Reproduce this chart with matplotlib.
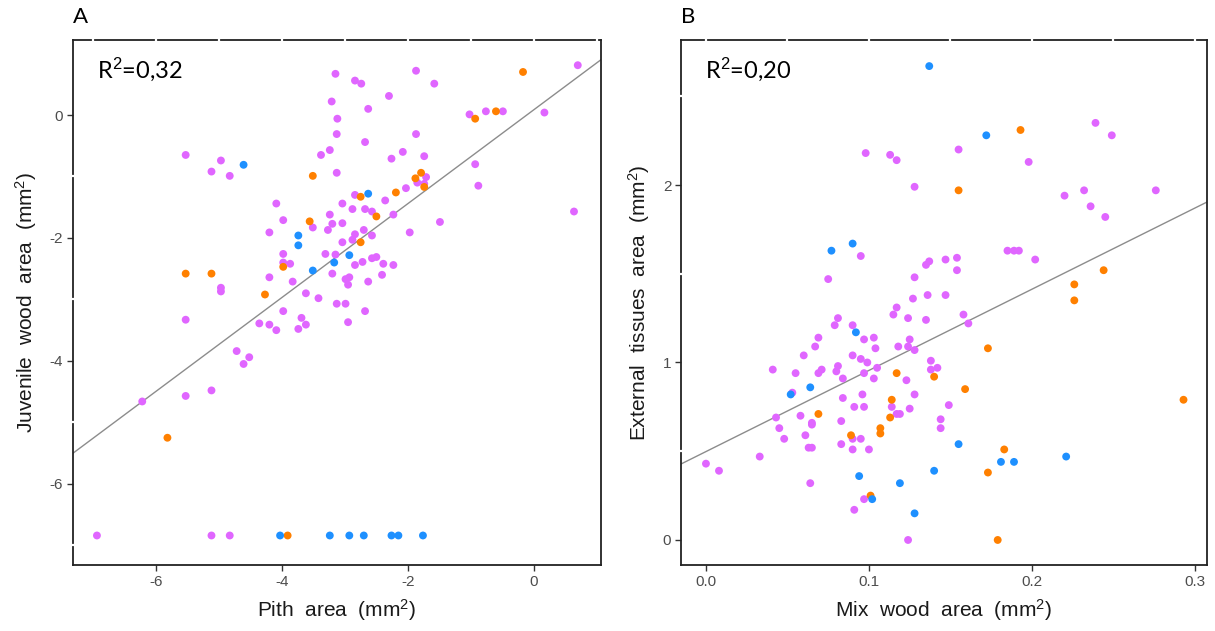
import matplotlib
matplotlib.use("Agg")
from matplotlib import pyplot as plt
import numpy as np

# ---- panel A : pith area vs juvenile wood area (log scale values) ----
a_violet_x = [-5.53, -4.97, -5.12, -4.83, -3.15, -3.21, -3.12, -3.13, -3.24, -3.38,
              -3.13, -4.09, -3.98, -3.24, -3.20, -3.51, -3.27, -4.20, -3.98, -3.31,
              -3.15, -3.98, -3.87, -4.97, -4.97, -4.20, -3.83, -3.20, -3.62, -3.42,
              -2.84, -2.74, -1.87, -1.58, -2.30, -2.63, -1.87, -2.68, -2.08, -2.26,
              -1.74, 0.70, -1.02, -0.76, -0.49, 0.17, -0.93, -0.88, 0.64, -1.71,
              -1.85, -1.74, -2.03, -2.84, -2.36, -3.04, -2.88, -2.68, -2.57, -2.23,
              -1.49, -3.04, -2.70, -2.84, -2.57, -2.88, -3.04, -1.97, -2.57, -2.50,
              -2.72, -2.84, -2.39, -2.23, -2.99, -2.93, -2.95, -2.63, -2.41, -3.13,
              -2.99, -2.68, -2.95, -5.53, -4.36, -4.20, -4.09, -3.98, -3.74, -3.69,
              -3.62, -4.72, -4.52, -4.61, -5.12, -5.53, -6.22, -6.94, -5.12, -4.83]
a_violet_y = [-0.65, -0.74, -0.92, -0.99, 0.67, 0.22, -0.06, -0.31, -0.57, -0.65,
              -0.94, -1.44, -1.71, -1.62, -1.77, -1.83, -1.87, -1.91, -2.26, -2.26,
              -2.27, -2.40, -2.42, -2.81, -2.87, -2.64, -2.71, -2.58, -2.90, -2.98,
              0.56, 0.51, 0.72, 0.51, 0.31, 0.10, -0.31, -0.44, -0.60, -0.71,
              -0.67, 0.81, 0.01, 0.06, 0.06, 0.04, -0.80, -1.15, -1.57, -1.01,
              -1.10, -1.12, -1.19, -1.30, -1.39, -1.44, -1.53, -1.53, -1.57, -1.62,
              -1.74, -1.76, -1.87, -1.94, -1.96, -2.03, -2.07, -1.91, -2.33, -2.31,
              -2.39, -2.44, -2.42, -2.44, -2.67, -2.64, -2.76, -2.71, -2.60, -3.07,
              -3.07, -3.19, -3.37, -3.33, -3.39, -3.41, -3.50, -3.19, -3.48, -3.30,
              -3.41, -3.84, -3.94, -4.05, -4.48, -4.57, -4.66, -6.84, -6.84, -6.84]
a_orange_x = [-3.51, -3.56, -3.98, -5.53, -5.12, -4.27, -0.17, -0.93, -0.60, -1.79,
              -1.88, -1.74, -2.19, -2.75, -2.50, -2.75, -5.82, -3.91]
a_orange_y = [-0.99, -1.73, -2.47, -2.58, -2.58, -2.92, 0.70, -0.06, 0.06, -0.94,
              -1.03, -1.17, -1.26, -1.33, -1.65, -2.07, -5.25, -6.84]
a_blue_x = [-4.61, -3.74, -3.74, -3.17, -3.51, -2.63, -2.93,
            -4.03, -3.24, -2.93, -2.70, -2.26, -2.15, -1.76]
a_blue_y = [-0.81, -1.96, -2.12, -2.40, -2.53, -1.28, -2.28,
            -6.84, -6.84, -6.84, -6.84, -6.84, -6.84, -6.84]
a_fit = (0.763, 0.084)   # slope, intercept
a_r2 = "0,32"

# ---- panel B : mix wood area vs external tissues area ----
b_violet_x = [0.098, 0.113, 0.117, 0.128, 0.095, 0.075, 0.137, 0.135, 0.147, 0.128,
              0.127, 0.136, 0.147, 0.117, 0.239, 0.249, 0.155, 0.198, 0.220, 0.232,
              0.236, 0.245, 0.276, 0.185, 0.189, 0.192, 0.202, 0.154, 0.154, 0.115,
              0.081, 0.079, 0.090, 0.124, 0.135, 0.069, 0.097, 0.103, 0.125, 0.067,
              0.104, 0.118, 0.124, 0.128, 0.060, 0.090, 0.095, 0.099, 0.081, 0.080,
              0.071, 0.069, 0.041, 0.055, 0.097, 0.105, 0.084, 0.103, 0.123, 0.138,
              0.138, 0.142, 0.053, 0.096, 0.128, 0.084, 0.114, 0.091, 0.097, 0.125,
              0.149, 0.117, 0.119, 0.043, 0.058, 0.144, 0.144, 0.083, 0.065, 0.065,
              0.045, 0.061, 0.090, 0.095, 0.048, 0.083, 0.063, 0.065, 0.090, 0.100,
              0.033, 0.000, 0.008, 0.064, 0.097, 0.091, 0.124, 0.158, 0.161]
b_violet_y = [2.18, 2.17, 2.14, 1.99, 1.60, 1.47, 1.57, 1.55, 1.58, 1.48,
              1.36, 1.38, 1.38, 1.31, 2.35, 2.28, 2.20, 2.13, 1.94, 1.97,
              1.88, 1.82, 1.97, 1.63, 1.63, 1.63, 1.58, 1.59, 1.52, 1.27,
              1.25, 1.21, 1.21, 1.25, 1.24, 1.14, 1.13, 1.14, 1.13, 1.09,
              1.08, 1.09, 1.09, 1.07, 1.04, 1.04, 1.02, 1.00, 0.98, 0.95,
              0.96, 0.94, 0.96, 0.94, 0.94, 0.97, 0.91, 0.91, 0.90, 1.01,
              0.96, 0.97, 0.83, 0.82, 0.82, 0.80, 0.75, 0.75, 0.75, 0.74,
              0.76, 0.71, 0.71, 0.69, 0.70, 0.68, 0.63, 0.67, 0.66, 0.65,
              0.63, 0.59, 0.57, 0.57, 0.57, 0.54, 0.52, 0.52, 0.51, 0.51,
              0.47, 0.43, 0.39, 0.32, 0.23, 0.17, 0.00, 1.27, 1.22]
b_orange_x = [0.193, 0.155, 0.244, 0.226, 0.226, 0.117, 0.140, 0.114, 0.069, 0.113,
              0.107, 0.107, 0.089, 0.101, 0.173, 0.159, 0.183, 0.173, 0.293, 0.179]
b_orange_y = [2.31, 1.97, 1.52, 1.44, 1.35, 0.94, 0.92, 0.79, 0.71, 0.69,
              0.63, 0.60, 0.59, 0.25, 1.08, 0.85, 0.51, 0.38, 0.79, 0.00]
b_blue_x = [0.137, 0.172, 0.090, 0.077, 0.092, 0.064, 0.052, 0.094, 0.119, 0.140,
            0.102, 0.128, 0.155, 0.181, 0.189, 0.221]
b_blue_y = [2.67, 2.28, 1.67, 1.63, 1.17, 0.86, 0.82, 0.36, 0.32, 0.39,
            0.23, 0.15, 0.54, 0.44, 0.44, 0.47]
b_fit = (4.574, 0.498)
b_r2 = "0,20"

violet = "#E066FF"
orange = "#FF8000"
blue = "#1E90FF"

plt.rcParams['font.family'] = ['Liberation Sans', 'DejaVu Sans']
plt.rcParams['mathtext.fontset'] = 'custom'
plt.rcParams['mathtext.rm'] = 'Liberation Sans'
plt.rcParams['mathtext.it'] = 'Liberation Sans:italic'

fig = plt.figure(figsize=(12.15, 6.31), dpi=100)
ax1 = fig.add_axes([0.0601, 0.1046, 0.4346, 0.832])
ax2 = fig.add_axes([0.5605, 0.1046, 0.4329, 0.832])


def panel(ax, groups, fit, r2, xlim, ylim, xmaj, xmin, ymaj, ymin, xlab, ylab, letter, xfmt):
    for xs, ys, c in groups:
        ax.scatter(xs, ys, s=32, color=c, edgecolors='none', zorder=3)
    xx = np.array(xlim)
    ax.plot(xx, fit[0] * xx + fit[1], color='#8C8C8C', lw=1.0, zorder=2)
    ax.set_xlim(xlim)
    ax.set_ylim(ylim)
    ax.set_xticks(xmaj)
    ax.set_xticklabels([xfmt(v) for v in xmaj])
    ax.set_yticks(ymaj)
    ax.set_yticklabels(['%g' % v for v in ymaj])
    ax.tick_params(length=4, width=1, color='#333333', labelcolor='#4D4D4D',
                   labelsize=11, pad=3)
    for sp in ax.spines.values():
        sp.set_linewidth(1.3)
        sp.set_color('#222222')
    # white breaks on top and left border (grid positions)
    ax.vlines(list(xmaj) + list(xmin), 0.996, 1.004, transform=ax.get_xaxis_transform(),
              color='white', lw=1.6, clip_on=False, zorder=5)
    ax.hlines(ymin, -0.004, 0.004, transform=ax.get_yaxis_transform(),
              color='white', lw=1.6, clip_on=False, zorder=5)
    ax.set_xlabel(xlab, fontsize=15, color='#1a1a1a', labelpad=6)
    ax.set_ylabel(ylab, fontsize=15, color='#1a1a1a', labelpad=8)
    ax.text(0.045, 0.945, 'R$^2$=' + r2, transform=ax.transAxes, fontsize=17,
            family=['Lato', 'DejaVu Sans'], va='center', ha='left')
    ax.text(0.0, 1.025, letter, transform=ax.transAxes, fontsize=16,
            family=['Lato', 'DejaVu Sans'], va='bottom', ha='left')


panel(ax1, [(a_violet_x, a_violet_y, violet), (a_orange_x, a_orange_y, orange),
            (a_blue_x, a_blue_y, blue)],
      a_fit, a_r2, (-7.32, 1.07), (-7.32, 1.22),
      [-6, -4, -2, 0], [-7, -5, -3, -1, 1], [0, -2, -4, -6], [-1, -3, -5, -7],
      'Pith  area  (mm$^2$)', 'Juvenile  wood  area  (mm$^2$)', 'A', lambda v: '%d' % v)

panel(ax2, [(b_violet_x, b_violet_y, violet), (b_orange_x, b_orange_y, orange),
            (b_blue_x, b_blue_y, blue)],
      b_fit, b_r2, (-0.0153, 0.3074), (-0.141, 2.817),
      [0.0, 0.1, 0.2, 0.3], [0.05, 0.15, 0.25], [0, 1, 2], [0.5, 1.5, 2.5],
      'Mix  wood  area  (mm$^2$)', 'External  tissues  area  (mm$^2$)', 'B', lambda v: '%.1f' % v)

fig.savefig('out.png', dpi=100)
